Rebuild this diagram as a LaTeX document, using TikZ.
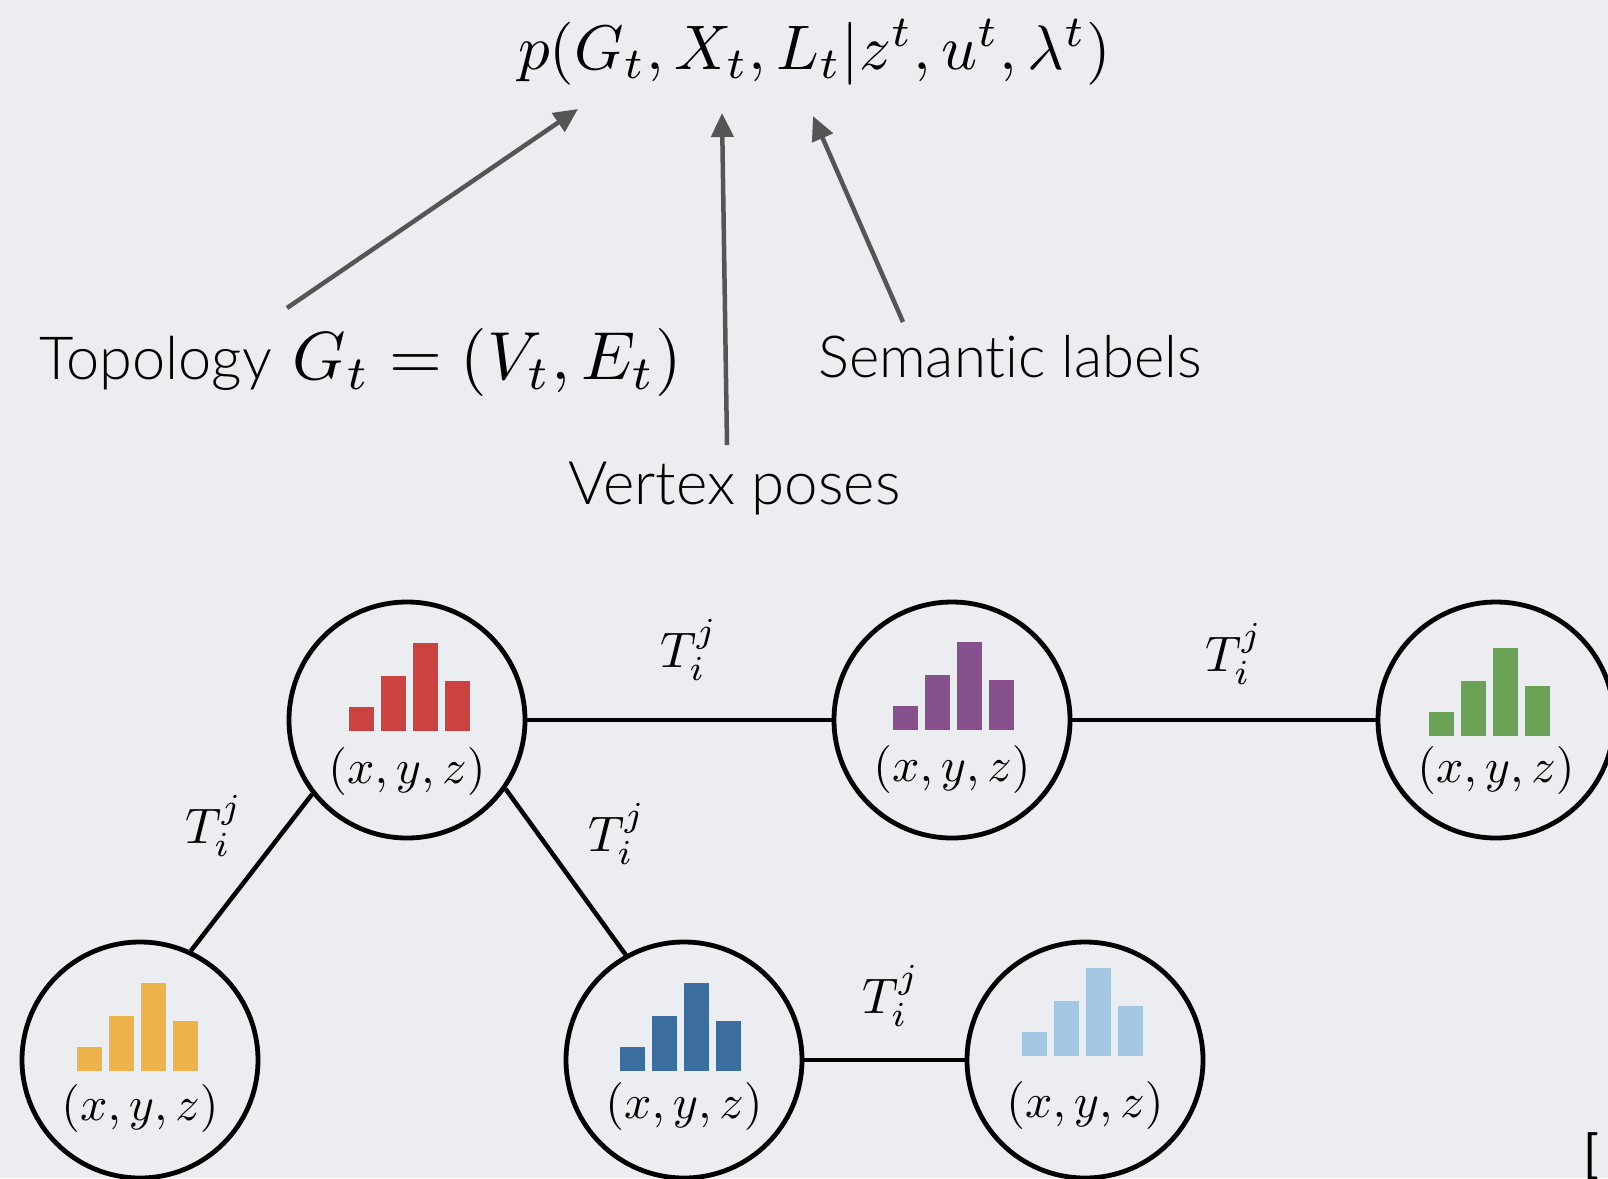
\documentclass[tikz,border=0pt]{standalone}
\usepackage{graphicx}
\usepackage{fontspec}
\newfontfamily\slidefont{Lato Light}[Ligatures=NoCommon]
\newfontfamily\citefont{Lato}
\usetikzlibrary{arrows.meta,calc}

\definecolor{slidebg}{HTML}{ECEDF0}
\definecolor{arrowgray}{HTML}{555555}
\definecolor{barred}{HTML}{CC4240}
\definecolor{barpurple}{HTML}{86508F}
\definecolor{bargreen}{HTML}{6AA256}
\definecolor{barorange}{HTML}{EFB24A}
\definecolor{barblue}{HTML}{3C6D9F}
\definecolor{barlight}{HTML}{A3C6E3}

% math set at 10pt and enlarged
\newcommand\mathat[2]{\scalebox{#1}{\fontsize{10}{12}\selectfont$#2$}}

\tikzset{
  vtx/.style={circle, draw=black, line width=4.8pt, minimum size=236pt, inner sep=0pt},
  link/.style={draw=black, line width=4.5pt},
  pointer/.style={draw=arrowgray, line width=4.5pt, -{Triangle[length=24pt,width=22pt]}},
  slide/.style={inner sep=0pt, font=\slidefont\fontsize{#1}{68}\selectfont},
  slide/.default=58,
  plain/.style={inner sep=0pt},
}

% vertex: name, x, y, colour, bar x-shift, bar baseline, label baseline
\newcommand\vertexnode[7]{%
  \node[vtx] (#1) at (#2,#3) {};
  \begin{scope}[shift={(#2,#3)}]
    \fill[#4] ({#5-60.5},#6) rectangle ++(25,-24);
    \fill[#4] ({#5-28.5},#6) rectangle ++(25,-55);
    \fill[#4] ({#5+3.5},#6) rectangle ++(25,-88);
    \fill[#4] ({#5+35.5},#6) rectangle ++(25,-50);
  \end{scope}
  \node[plain, anchor=base] (#1-pos) at ($(#1)+(0,#7)$) {\mathat{4.8}{(x,y,z)}};
}

\begin{document}
\begin{tikzpicture}[x=1pt, y=-1pt]
  \fill[slidebg] (0,0) rectangle (1608,1178);
  \useasboundingbox (0,0) rectangle (1608,1178);

  % joint distribution and its three parts
  \node[plain, anchor=base west] (joint) at (518,69) {\mathat{6.3}{p(G_t, X_t, L_t | z^t, u^t, \lambda^t)}};
  \node[slide=59.5, anchor=base west] (topo) at (39,379)
    {Topology\hspace{21pt}\mathat{6.8}{G_t = (V_t, E_t)}};
  \node[slide=58, anchor=base west] (sem) at (818,377) {Semantic labels};
  \node[slide=60, anchor=base west] (vpos) at (568,504) {Vertex poses};

  \coordinate (topoFrom) at (287,308);
  \coordinate (topoTo)   at (578,109);
  \coordinate (vposFrom) at (727,445);
  \coordinate (vposTo)   at (722,113);
  \coordinate (semFrom)  at (903,322);
  \coordinate (semTo)    at (813,116);
  \draw[pointer] (topoFrom) -- (topoTo);
  \draw[pointer] (vposFrom) -- (vposTo);
  \draw[pointer] (semFrom) -- (semTo);

  % graph of vertices with local histograms
  \vertexnode{vr}{407}{720}{barred}{2}{11}{63}
  \vertexnode{vp}{952}{720}{barpurple}{1.5}{10}{61}
  \vertexnode{vg}{1496}{720}{bargreen}{-7}{16}{62}
  \vertexnode{vo}{140}{1060}{barorange}{-3}{11}{60}
  \vertexnode{vb}{684}{1060}{barblue}{-3.5}{11}{58}
  \vertexnode{vl}{1085}{1060}{barlight}{-2.5}{-4}{57}

  \draw[link] (vr) -- (vp);
  \draw[link] (vp) -- (vg);
  \draw[link] (vr.218) -- (vo.65);
  \draw[link] (vr.325) -- (vb.119);
  \draw[link] (vb) -- (vl);

  % relative transforms on the edges
  \node[plain, anchor=base west] (trp) at (660,667) {\mathat{5}{T_i^j}};
  \node[plain, anchor=base west] (tpg) at (1205,671) {\mathat{5}{T_i^j}};
  \node[plain, anchor=base west] (tro) at (185,843) {\mathat{5}{T_i^j}};
  \node[plain, anchor=base west] (trb) at (588,851) {\mathat{5}{T_i^j}};
  \node[plain, anchor=base west] (tbl) at (862,1013) {\mathat{5}{T_i^j}};

  % start of the citation in the corner
  \node[plain, anchor=base west, font=\citefont\fontsize{52}{56}\selectfont] (cite) at (1583,1172) {[};
\end{tikzpicture}
\end{document}
